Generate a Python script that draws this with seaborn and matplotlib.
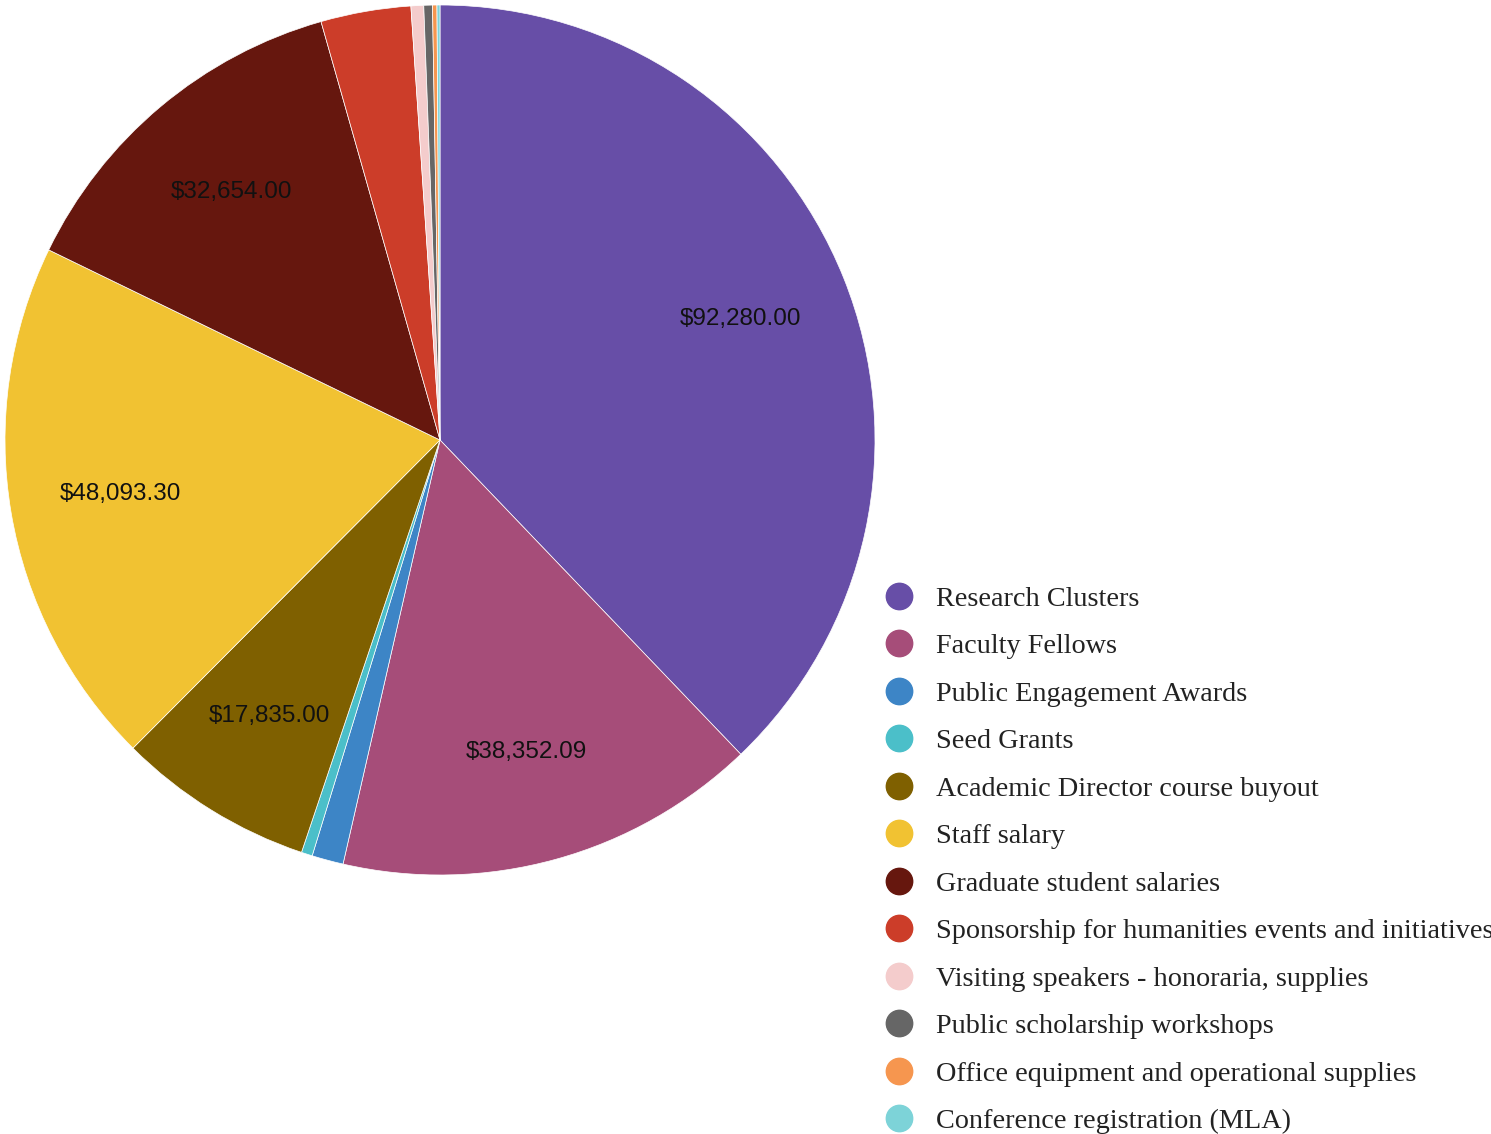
import matplotlib
matplotlib.use("Agg")
import matplotlib.pyplot as plt
import seaborn as sns
import numpy as np
from matplotlib.lines import Line2D

categories = [
    "Research Clusters",
    "Faculty Fellows",
    "Public Engagement Awards",
    "Seed Grants",
    "Academic Director course buyout",
    "Staff salary",
    "Graduate student salaries",
    "Sponsorship for humanities events and initiatives",
    "Visiting speakers - honoraria, supplies",
    "Public scholarship workshops",
    "Office equipment and operational supplies",
    "Conference registration (MLA)",
]
values = [92280.00, 38352.09, 2850.00, 1000.00, 17835.00, 48093.30,
          32654.00, 8150.00, 1150.00, 780.00, 400.00, 270.00]
colors = ["#674ea7", "#a64d79", "#3d85c6", "#4bbfc9", "#7f6000", "#f1c232",
          "#66170e", "#cc3d29", "#f4cccc", "#666666", "#f6964f", "#7dd3d8"]

sns.set_theme(style="white")
plt.rcParams["font.family"] = ["Liberation Sans", "DejaVu Sans"]

fig = plt.figure(figsize=(14.91, 11.34), dpi=100)
W, H = 1491, 1134
cx, cy, R = 440, 440, 435
ax = fig.add_axes([(cx - R) / W, (H - cy - R) / H, 2 * R / W, 2 * R / H])

total = sum(values)
wedges, _ = ax.pie(values, colors=colors, startangle=90, counterclock=False,
                   radius=1.0, wedgeprops=dict(edgecolor="white", linewidth=0.5))
ax.set_xlim(-1, 1)
ax.set_ylim(-1, 1)
ax.set_aspect("equal")
ax.axis("off")

for w, v in zip(wedges, values):
    if v / total < 0.05:
        continue
    ang = np.deg2rad((w.theta1 + w.theta2) / 2)
    r = 0.745
    ax.text(r * np.cos(ang), r * np.sin(ang), f"${v:,.2f}", ha="center", va="center",
            fontsize=17.5, color="#111111")

fs = 20.3
handles = [Line2D([0], [0], marker="o", linestyle="none", markersize=19,
                  markerfacecolor=c, markeredgecolor=c) for c in colors]
leg = fig.legend(handles, categories, loc="upper left",
                 bbox_to_anchor=(882 / W, 1 - 586 / H), frameon=False,
                 prop={"family": ["Liberation Serif", "DejaVu Serif"], "size": fs},
                 labelspacing=0.772, handletextpad=0.71, handlelength=1.2,
                 borderpad=0, borderaxespad=0)
for t in leg.get_texts():
    t.set_color("#222222")

fig.savefig("out.png", dpi=100)
